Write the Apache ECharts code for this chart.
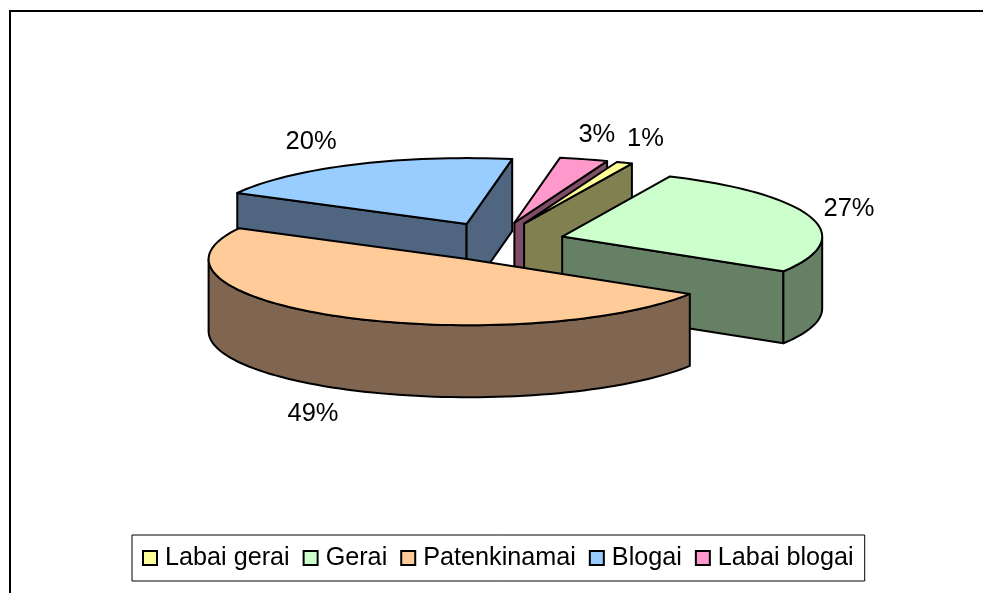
<!DOCTYPE html>
<html>
<head>
<meta charset="utf-8">
<style>html,body{margin:0;padding:0;background:#fff}#c{width:983px;height:593px}</style>
<script src="https://cdn.jsdelivr.net/npm/echarts@6/dist/echarts.min.js"></script>
</head>
<body>
<div id="c"></div>
<script>
const categories = ['Labai gerai', 'Gerai', 'Patenkinamai', 'Blogai', 'Labai blogai'];
const values = [1, 27, 49, 20, 3];
const colors = ['#FFFF99', '#CCFFCC', '#FFCC99', '#99CCFF', '#FF99CC'];
const sideColors = ['#808050', '#668066', '#806650', '#4F6580', '#804D66'];
const drawOrder = [3, 4, 0, 1, 2];
const labelNudge = [[21, -24], [38, -8], [-26, 98], [-42, -23], [13, -24]];
const apexNudge = [[-1, 0], [0, 0], [1, -1], [-5, 0], [-3, 0]];

const view = { cx: 500, cy: 242.5, rx: 260, ry: 66, depth: 72, explodeX: 0.25, explodeY: 0.31, startDeg: 20.9 };
const FONT = '25.5px "Liberation Sans", Arial, sans-serif';
const total = values.reduce((a, b) => a + b, 0);
const rad = d => d * Math.PI / 180;

function sliceAngles(i) {
  let s = view.startDeg;
  for (let k = 0; k < i; k++) s += values[k] / total * 360;
  return [s, s + values[i] / total * 360];
}
function rimPoint(apex, deg) {
  return [apex[0] + view.rx * Math.sin(rad(deg)), apex[1] - view.ry * Math.cos(rad(deg))];
}
const down = p => [p[0], p[1] + view.depth];

function renderSlice(i, v) {
  const [a0, a1] = sliceAngles(i);
  const mid = (a0 + a1) / 2;
  const apex = [
    view.cx + view.explodeX * view.rx * Math.sin(rad(mid)) + apexNudge[i][0],
    view.cy - view.explodeY * view.ry * Math.cos(rad(mid)) + apexNudge[i][1]
  ];
  const strokeStyle = fill => ({ fill, stroke: '#000', lineWidth: 2, lineJoin: 'round' });
  const poly = (points, fill) => ({ type: 'polygon', shape: { points }, style: strokeStyle(fill), silent: true });
  const children = [];

  const p0 = rimPoint(apex, a0), p1 = rimPoint(apex, a1);
  const rimMid = rimPoint(apex, mid);
  // a radial wall faces the viewer when the slice's interior lies above its edge
  [p0, p1].forEach(p => {
    const t = (rimMid[0] - apex[0]) / ((p[0] - apex[0]) || 1e-6);
    const edgeY = apex[1] + (p[1] - apex[1]) * t;
    if (rimMid[1] < edgeY) children.push(poly([apex, p, down(p), down(apex)], sideColors[i]));
  });

  // outer rim: only the part of the arc on the front half
  const front = [];
  for (let d = a0; d <= a1 + 1e-6; d += 2) {
    const m = ((d % 360) + 360) % 360;
    if (m >= 90 && m <= 270) front.push(d);
  }
  if (front.length > 1) {
    const last = Math.min(a1, 270);
    if (front[front.length - 1] < last) front.push(last);
    const topEdge = front.map(d => rimPoint(apex, d));
    children.push(poly(topEdge.concat(topEdge.slice().reverse().map(down)), sideColors[i]));
  }

  const top = [apex];
  for (let d = a0; d < a1; d += 2) top.push(rimPoint(apex, d));
  top.push(p1);
  children.push(poly(top, colors[i]));

  const lp = rimPoint(apex, mid);
  children.push({
    type: 'text', silent: true, z2: 10,
    style: {
      text: Math.round(v / total * 100) + '%',
      x: lp[0] + labelNudge[i][0], y: lp[1] + labelNudge[i][1],
      fill: '#000', font: FONT, align: 'center', verticalAlign: 'middle'
    }
  });
  return { type: 'group', children };
}

const chart = echarts.init(document.getElementById('c'), null, { renderer: 'canvas' });
chart.setOption({
  animation: false,
  backgroundColor: '#fff',
  legend: {
    data: categories,
    left: 132, top: 535, orient: 'horizontal',
    icon: 'rect', itemWidth: 14, itemHeight: 14, itemGap: 13,
    padding: [10, 11, 10, 10],
    backgroundColor: '#fff', borderColor: '#000', borderWidth: 1,
    selectedMode: false,
    textStyle: { fontFamily: '"Liberation Sans", Arial, sans-serif', fontSize: 25.2, lineHeight: 26, color: '#000', padding: [0, 0, 0, 3] },
    itemStyle: { borderColor: '#000', borderWidth: 2 }
  },
  graphic: [
    { type: 'line', shape: { x1: 10, y1: 11, x2: 983, y2: 11 }, style: { stroke: '#000', lineWidth: 2 }, silent: true },
    { type: 'line', shape: { x1: 10, y1: 10, x2: 10, y2: 593 }, style: { stroke: '#000', lineWidth: 2 }, silent: true }
  ],
  series: categories.map((name, i) => ({
    type: 'custom',
    name,
    coordinateSystem: 'none',
    z: 2 + drawOrder.indexOf(i),
    itemStyle: { color: colors[i] },
    data: [values[i]],
    renderItem: (params, api) => renderSlice(i, api.value(0))
  }))
});
</script>
</body>
</html>
